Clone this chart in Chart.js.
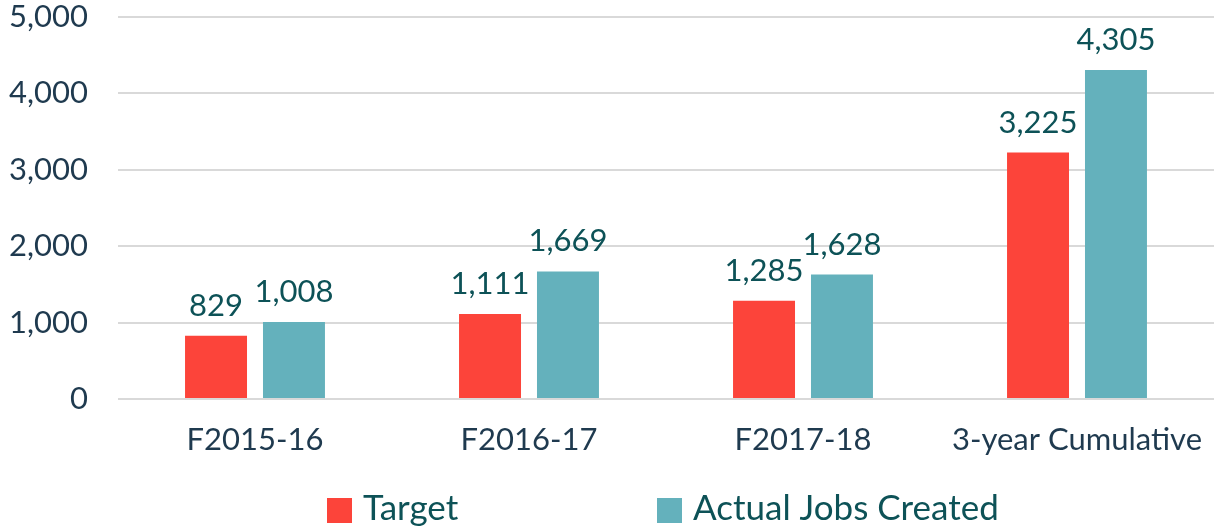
<!DOCTYPE html>
<html>
<head>
<meta charset="utf-8">
<script src="https://cdn.jsdelivr.net/npm/chart.js@4/dist/chart.umd.min.js"></script>
<style>
  html, body { margin: 0; padding: 0; background: #fff; }
  #wrap { width: 1214px; height: 529px; position: relative; }
</style>
</head>
<body>
<div id="wrap"><canvas id="chart-jobs"></canvas></div>
<script>
const categories = ["F2015-16", "F2016-17", "F2017-18", "3-year Cumulative"];
const targetValues = [829, 1111, 1285, 3225];
const actualValues = [1008, 1669, 1628, 4305];
const yTicks = [0, 1000, 2000, 3000, 4000, 5000];

const RED = "#fc443a";
const TEAL = "#64b1bc";
const LABEL_COLOR = "#0d5257";
const AXIS_COLOR = "#1f3a4f";
const FONT = "Lato, 'Open Sans', sans-serif";

const fmt = (v) => v.toLocaleString("en-US");

// draws the value above each bar
const valueLabels = {
    id: "valueLabels",
    afterDatasetsDraw(chart) {
        const ctx = chart.ctx;
        ctx.save();
        ctx.font = "31px " + FONT;
        ctx.fillStyle = LABEL_COLOR;
        ctx.textAlign = "center";
        ctx.textBaseline = "alphabetic";
        chart.data.datasets.forEach((ds, i) => {
            chart.getDatasetMeta(i).data.forEach((bar, j) => {
                const p = bar.getProps(["x", "y"], true);
                ctx.fillText(fmt(ds.data[j]), p.x, p.y - 20);
            });
        });
        ctx.restore();
    },
};

// legend drawn by hand so the two items can sit far apart
const bottomLegend = {
    id: "bottomLegend",
    afterDraw(chart) {
        const ctx = chart.ctx;
        const items = [
            { x: 327, ds: chart.data.datasets[0] },
            { x: 657, ds: chart.data.datasets[1] },
        ];
        ctx.save();
        ctx.font = "35px " + FONT;
        ctx.textBaseline = "middle";
        items.forEach((it) => {
            ctx.fillStyle = it.ds.backgroundColor;
            ctx.fillRect(it.x, 498, 25, 25);
            ctx.fillStyle = LABEL_COLOR;
            ctx.fillText(it.ds.label, it.x + 36, 509);
        });
        ctx.restore();
    },
};

new Chart(document.getElementById("chart-jobs"), {
    type: "bar",
    data: {
        labels: categories,
        datasets: [
            {
                label: "Target",
                data: targetValues,
                backgroundColor: RED,
                categoryPercentage: 0.569,
                barPercentage: 0.795,
            },
            {
                label: "Actual Jobs Created",
                data: actualValues,
                backgroundColor: TEAL,
                categoryPercentage: 0.569,
                barPercentage: 0.795,
            },
        ],
    },
    options: {
        responsive: true,
        maintainAspectRatio: false,
        animation: false,
        layout: {
            padding: { top: 17, right: 0, bottom: 60, left: 0 },
        },
        plugins: {
            legend: { display: false },
            tooltip: { enabled: false },
        },
        scales: {
            x: {
                grid: { display: false, drawTicks: false },
                border: { display: false },
                ticks: {
                    color: AXIS_COLOR,
                    font: { family: FONT, size: 31 },
                    padding: 22,
                    maxRotation: 0,
                },
                afterFit: (scale) => {
                    scale.height = 70;
                    scale.paddingLeft = 0;
                    scale.paddingRight = 0;
                },
            },
            y: {
                min: 0,
                max: 5000,
                afterBuildTicks: (scale) => {
                    scale.ticks = yTicks.map((v) => ({ value: v }));
                },
                grid: { color: "#d9d9d9", lineWidth: 2, drawTicks: false },
                border: { display: false },
                ticks: {
                    color: AXIS_COLOR,
                    font: { family: FONT, size: 31 },
                    padding: 30,
                    callback: (v) => fmt(v),
                },
                afterFit: (scale) => {
                    scale.width = 118;
                    scale.paddingTop = 0;
                    scale.paddingBottom = 0;
                },
            },
        },
    },
    plugins: [valueLabels, bottomLegend],
});
</script>
</body>
</html>
